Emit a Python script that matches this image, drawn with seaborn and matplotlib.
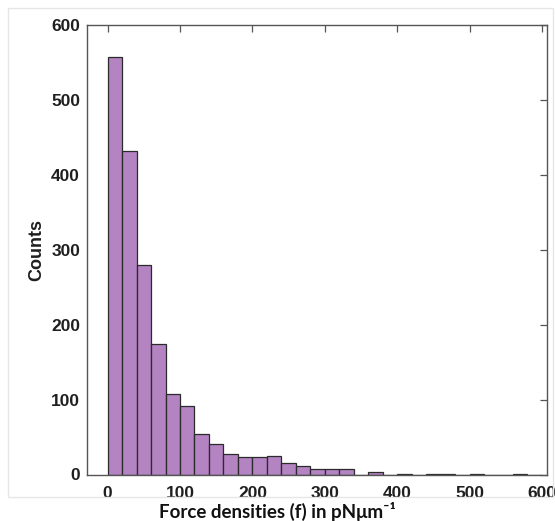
import numpy as np
import pandas as pd
import matplotlib.pyplot as plt
import seaborn as sns
from matplotlib.patches import Rectangle

# histogram counts (bin width 20, starting at 0)
bin_start = list(range(0, 600, 20))
counts = [557, 432, 280, 174, 108, 91, 54, 41, 27, 23, 24, 25, 16, 12, 8, 8, 7,
          0, 4, 0, 1, 0, 1, 1, 0, 1, 0, 0, 1, 0]
x_ticks = [0, 100, 200, 300, 400, 500, 600]
y_ticks = [0, 100, 200, 300, 400, 500, 600]

df = pd.DataFrame({'force': np.array(bin_start) + 10, 'n': counts})
edges = list(range(0, 620, 20))

sns.set_style('white')
plt.rcParams['font.family'] = ['Liberation Sans', 'DejaVu Sans']

fig = plt.figure(figsize=(5.55, 5.21), dpi=100)
ax = fig.add_axes([87 / 555, 1 - 474.5 / 521, 460 / 555, 449.5 / 521])

sns.histplot(data=df, x='force', weights='n', bins=edges, ax=ax,
             color='#a66db8', alpha=0.85, edgecolor='#2b2b2b', linewidth=0.9)

ax.set_xlim(-28.5, 607)
ax.set_ylim(0, 600)
ax.set_xticks(x_ticks)
ax.set_yticks(y_ticks)
ax.tick_params(direction='in', length=5, width=0.9, color='#555555',
               top=True, right=True, labelsize=12.5)
ax.tick_params(axis='y', pad=5)
ax.tick_params(axis='x', pad=8)
for lab in ax.get_xticklabels() + ax.get_yticklabels():
    lab.set_fontweight('bold')
    lab.set_color('#1f1f1f')
for s in ax.spines.values():
    s.set_color('#555555')
    s.set_linewidth(1.0)

ax.set_xlabel('')
ax.set_ylabel('Counts', fontsize=13, fontweight='bold', color='#1f1f1f', labelpad=4)

# light frame around the exported plot
fig.patches.append(Rectangle((8 / 555, 1 - 497 / 521), 545 / 555, 489 / 521,
                             transform=fig.transFigure, fill=False,
                             edgecolor='#e6e6e6', linewidth=1))

fig.text(277 / 555, 1 - 511 / 521, 'Force densities (f) in pNμm⁻¹',
         ha='center', va='center', fontsize=13.5, fontweight='bold',
         family=['Lato', 'DejaVu Sans'], color='#111111')

fig.savefig('out.png', dpi=100)
